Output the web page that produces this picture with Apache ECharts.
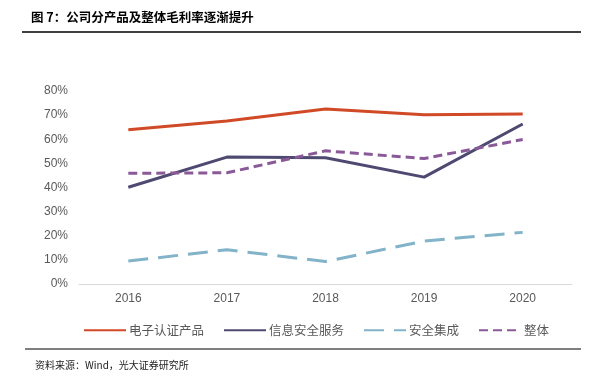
<!DOCTYPE html>
<html><head><meta charset="utf-8">
<script src="https://cdn.jsdelivr.net/npm/echarts@6/dist/echarts.min.js"></script>
<style>html,body{margin:0;padding:0;background:#fff}#c{width:610px;height:388px}</style>
</head><body><div id="c"></div>
<script>
const categories = ['2016','2017','2018','2019','2020'];
const seriesNames = ['电子认证产品','信息安全服务','安全集成','整体'];
const dzrz = [63.9, 67.6, 72.5, 70.2, 70.5];
const xxaq = [40.1, 52.6, 52.3, 44.3, 66.3];
const aqjc = [9.5, 14.2, 9.3, 17.8, 21.4];
const zt = [45.9, 46.1, 55.2, 52.0, 59.9];
const yTicks = [0,10,20,30,40,50,60,70,80];

const colors = ['#d14a27','#4e4971','#82b3c8','#8a5998'];
const dashes = ['solid','solid',[20,10],[9,5]];
const datas = [dzrz, xxaq, aqjc, zt];
const font = '"Noto Sans CJK SC", "Noto Sans", sans-serif';

const chart = echarts.init(document.getElementById('c'));
chart.setOption({
  animation:false,
  textStyle:{fontFamily:font},
  grid:{left:79,right:38,top:91,bottom:104,containLabel:false},
  legend:{top:319,left:78,itemWidth:42,itemHeight:3,itemGap:19,
    itemStyle:{opacity:0},
    textStyle:{color:'#595959',fontSize:12.5,fontFamily:font,padding:[0,0,0,-2]},
    data:seriesNames},
  xAxis:{type:'category',data:categories,boundaryGap:true,
    axisLine:{lineStyle:{color:'#d9d9d9',width:1}},
    axisTick:{inside:true,length:3,lineStyle:{color:'#d9d9d9'}},
    axisLabel:{color:'#595959',fontSize:12,margin:9,fontFamily:'"Liberation Sans", Arial, sans-serif'}},
  yAxis:{type:'value',min:yTicks[0],max:yTicks[yTicks.length-1],interval:10,
    axisLine:{show:false},axisTick:{show:false},splitLine:{show:false},
    axisLabel:{formatter:'{value}%',color:'#595959',fontSize:12,margin:11,fontFamily:'"Liberation Sans", Arial, sans-serif'}},
  series:seriesNames.map((n,i)=>({name:n,type:'line',data:datas[i],showSymbol:false,symbol:'none',
    lineStyle:{color:colors[i],width:3,type:dashes[i]},itemStyle:{color:colors[i]}})),
  graphic:[
    {type:'text',left:31,top:11,style:{text:'图 7：公司分产品及整体毛利率逐渐提升',font:'bold 12.5px '+font,fill:'#000'}},
    {type:'line',shape:{x1:22,y1:32,x2:581,y2:32},style:{stroke:'#000',lineWidth:1.5}},
    {type:'line',shape:{x1:25,y1:349,x2:581,y2:349},style:{stroke:'#000',lineWidth:1.2}},
    {type:'text',left:35,top:360,style:{text:'资料来源：Wind，光大证券研究所',font:'10px '+font,fill:'#222'}}
  ]
});
</script></body></html>
